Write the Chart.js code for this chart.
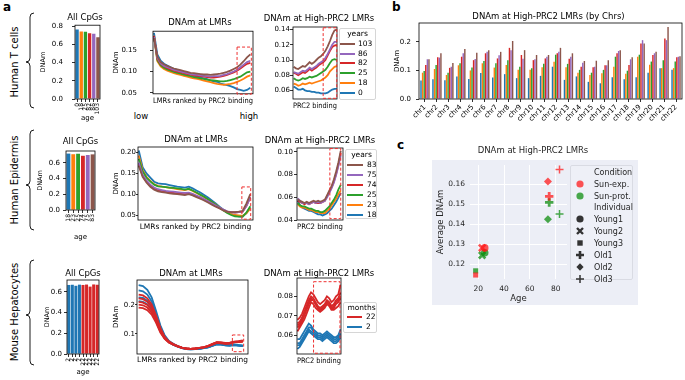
<!DOCTYPE html>
<html>
<head>
<meta charset="utf-8">
<title>DNAm at PRC2-bound LMRs</title>
<script src="https://cdn.jsdelivr.net/npm/chart.js@4.4.1/dist/chart.umd.min.js"></script>
<style>
  html, body { margin: 0; padding: 0; background: #fff; }
  #fig { position: relative; width: 685px; height: 380px; overflow: hidden; font-family: 'DejaVu Sans', sans-serif; color: #000; }
  #fig canvas { position: absolute; }
  .txt { position: absolute; white-space: nowrap; }
  .side { font-size: 10px; transform: translate(-50%, -50%) rotate(-90deg); }
  .mid { transform: translate(-50%, -50%); font-size: 8.5px; }
  .tag { font-size: 12px; font-weight: bold; }
  .leg { position: absolute; box-sizing: border-box; border: 1px solid #d6d6d6; border-radius: 2px; background: rgba(255,255,255,0.9); font-size: 7.5px; white-space: nowrap; z-index: 5; }
  .leg .lt { text-align: center; }
  .leg .li i { display: inline-block; height: 2px; vertical-align: middle; }
  .leg.sea { background: #eef0f7; border-color: #d9dbe3; font-size: 8px; color: #262626; }
  .leg.sea .li svg { display: inline-block; vertical-align: middle; margin: 0 8px 0 3px; }
  .leg.sea .li.head span { display: inline-block; width: 23px; }
  #cbg { position: absolute; left: 432px; top: 160px; width: 206px; height: 145px; background: #eceef6; }
</style>
</head>
<body>
<div id="fig">
  <div id="cbg"></div>
  <svg width="40" height="380" style="position:absolute;left:0;top:0" fill="none" stroke="#000" stroke-width="0.9">
    <path d="M34,13 Q30,13 30,17 L30,58 Q30,62 26,62 Q30,62 30,66 L30,104 Q30,108 34,108"/>
    <path d="M34,130 Q30,130 30,134 L30,181 Q30,185 26,185 Q30,185 30,189 L30,226 Q30,230 34,230"/>
    <path d="M34,260 Q30,260 30,264 L30,311 Q30,315 26,315 Q30,315 30,319 L30,361 Q30,365 34,365"/>
  </svg>
  <div class="txt side" style="left:14px;top:62px">Human T cells</div>
  <div class="txt side" style="left:14px;top:180px">Human Epidermis</div>
  <div class="txt side" style="left:14px;top:312px">Mouse Hepatocytes</div>
  <div class="txt tag" style="left:3px;top:0px">a</div>
  <div class="txt tag" style="left:392px;top:0px">b</div>
  <div class="txt tag" style="left:397px;top:138px">c</div>
  <div class="txt mid" style="left:141px;top:116px">low</div>
  <div class="txt mid" style="left:249px;top:116px">high</div>
</div>

<script>
// ---------------- data ----------------
// Human T cells (ages in years)
const tcAges = ['0', '18', '25', '82', '86', '103'];
const tcAllCpG = [0.762, 0.742, 0.737, 0.722, 0.716, 0.677];

const rank30 = [0, 1, 2, 3, 4, 5, 6, 7, 8, 9, 10, 11, 12, 13, 14, 15, 16, 17, 18, 19, 20, 21, 22, 23, 24, 25, 26, 27, 28, 29];
const rank25 = [0, 1, 2, 3, 4, 5, 6, 7, 8, 9, 10, 11, 12, 13, 14, 15, 16, 17, 18, 19, 20, 21, 22, 23, 24];
const rank20 = [0, 1, 2, 3, 4, 5, 6, 7, 8, 9, 10, 11, 12, 13, 14, 15, 16, 17, 18, 19];

const tcLmr0   = [0.190, 0.140, 0.125, 0.118, 0.114, 0.110, 0.106, 0.104, 0.101, 0.098, 0.096, 0.094, 0.090, 0.088, 0.086, 0.084, 0.082, 0.079, 0.077, 0.076, 0.072, 0.070, 0.068, 0.066, 0.063, 0.059, 0.057, 0.055, 0.057, 0.062];
const tcLmr18  = [0.183, 0.124, 0.112, 0.106, 0.102, 0.099, 0.096, 0.094, 0.092, 0.090, 0.088, 0.086, 0.084, 0.083, 0.081, 0.079, 0.077, 0.075, 0.073, 0.071, 0.070, 0.069, 0.070, 0.071, 0.073, 0.076, 0.079, 0.083, 0.088, 0.091];
const tcLmr25  = [0.182, 0.127, 0.115, 0.109, 0.105, 0.102, 0.099, 0.097, 0.095, 0.093, 0.091, 0.089, 0.087, 0.086, 0.084, 0.083, 0.081, 0.080, 0.079, 0.078, 0.077, 0.077, 0.078, 0.080, 0.082, 0.085, 0.088, 0.093, 0.098, 0.100];
const tcLmr82  = [0.183, 0.130, 0.118, 0.112, 0.108, 0.105, 0.102, 0.100, 0.098, 0.096, 0.094, 0.093, 0.091, 0.090, 0.089, 0.088, 0.087, 0.086, 0.086, 0.087, 0.088, 0.090, 0.092, 0.095, 0.098, 0.102, 0.107, 0.113, 0.118, 0.120];
const tcLmr86  = [0.180, 0.132, 0.119, 0.113, 0.110, 0.107, 0.104, 0.102, 0.100, 0.098, 0.096, 0.094, 0.093, 0.092, 0.091, 0.090, 0.089, 0.088, 0.089, 0.089, 0.090, 0.092, 0.094, 0.097, 0.100, 0.104, 0.110, 0.116, 0.122, 0.125];
const tcLmr103 = [0.178, 0.135, 0.122, 0.117, 0.113, 0.110, 0.107, 0.105, 0.103, 0.101, 0.099, 0.097, 0.096, 0.095, 0.094, 0.093, 0.093, 0.092, 0.093, 0.094, 0.095, 0.097, 0.099, 0.102, 0.106, 0.110, 0.116, 0.124, 0.133, 0.140];

const tcHigh0   = [0.065, 0.063, 0.061, 0.061, 0.062, 0.060, 0.059, 0.059, 0.058, 0.058, 0.057, 0.057, 0.056, 0.056, 0.056, 0.057, 0.059, 0.061, 0.062, 0.062];
const tcHigh18  = [0.069, 0.068, 0.066, 0.067, 0.069, 0.068, 0.069, 0.070, 0.069, 0.070, 0.071, 0.072, 0.073, 0.075, 0.077, 0.080, 0.085, 0.088, 0.091, 0.092];
const tcHigh25  = [0.076, 0.074, 0.073, 0.074, 0.076, 0.075, 0.076, 0.078, 0.077, 0.078, 0.079, 0.081, 0.083, 0.085, 0.087, 0.091, 0.096, 0.100, 0.101, 0.100];
const tcHigh82  = [0.083, 0.082, 0.080, 0.082, 0.084, 0.083, 0.085, 0.088, 0.086, 0.088, 0.090, 0.093, 0.095, 0.097, 0.100, 0.106, 0.112, 0.117, 0.119, 0.120];
const tcHigh86  = [0.084, 0.083, 0.082, 0.084, 0.086, 0.085, 0.087, 0.090, 0.088, 0.090, 0.092, 0.095, 0.097, 0.099, 0.103, 0.108, 0.114, 0.120, 0.124, 0.124];
const tcHigh103 = [0.091, 0.089, 0.088, 0.090, 0.092, 0.091, 0.094, 0.097, 0.095, 0.097, 0.100, 0.103, 0.105, 0.108, 0.112, 0.118, 0.125, 0.133, 0.139, 0.140];

// Human epidermis (ages in years)
const epAges = ['18', '23', '25', '74', '75', '83'];
const epAllCpG = [0.720, 0.712, 0.718, 0.692, 0.702, 0.710];

const epLmr18 = [0.205, 0.165, 0.150, 0.140, 0.130, 0.126, 0.125, 0.124, 0.122, 0.120, 0.118, 0.117, 0.116, 0.118, 0.114, 0.109, 0.104, 0.098, 0.092, 0.085, 0.078, 0.070, 0.063, 0.057, 0.052, 0.049, 0.047, 0.046, 0.055, 0.068];
const epLmr23 = [0.193, 0.158, 0.142, 0.132, 0.124, 0.120, 0.118, 0.117, 0.115, 0.114, 0.112, 0.111, 0.110, 0.112, 0.108, 0.103, 0.098, 0.093, 0.087, 0.081, 0.075, 0.068, 0.062, 0.056, 0.052, 0.050, 0.049, 0.048, 0.054, 0.066];
const epLmr25 = [0.185, 0.155, 0.140, 0.131, 0.123, 0.119, 0.118, 0.117, 0.116, 0.115, 0.114, 0.113, 0.111, 0.113, 0.109, 0.104, 0.099, 0.094, 0.088, 0.082, 0.075, 0.068, 0.061, 0.055, 0.050, 0.047, 0.046, 0.046, 0.056, 0.071];
const epLmr74 = [0.172, 0.145, 0.130, 0.120, 0.113, 0.110, 0.108, 0.106, 0.104, 0.103, 0.102, 0.101, 0.100, 0.102, 0.099, 0.095, 0.091, 0.087, 0.082, 0.077, 0.072, 0.067, 0.062, 0.058, 0.057, 0.056, 0.057, 0.058, 0.072, 0.093];
const epLmr75 = [0.176, 0.147, 0.133, 0.123, 0.116, 0.112, 0.110, 0.108, 0.107, 0.106, 0.105, 0.104, 0.103, 0.104, 0.101, 0.097, 0.093, 0.088, 0.083, 0.078, 0.073, 0.068, 0.063, 0.059, 0.057, 0.056, 0.057, 0.058, 0.072, 0.092];
const epLmr83 = [0.168, 0.142, 0.128, 0.118, 0.111, 0.107, 0.105, 0.104, 0.102, 0.101, 0.100, 0.099, 0.098, 0.100, 0.097, 0.093, 0.089, 0.085, 0.080, 0.075, 0.070, 0.066, 0.061, 0.058, 0.057, 0.057, 0.058, 0.060, 0.078, 0.100];

const epHigh18 = [0.057, 0.053, 0.051, 0.050, 0.049, 0.048, 0.048, 0.047, 0.046, 0.045, 0.045, 0.044, 0.045, 0.046, 0.048, 0.050, 0.053, 0.056, 0.060, 0.064];
const epHigh23 = [0.054, 0.052, 0.051, 0.051, 0.050, 0.049, 0.049, 0.048, 0.047, 0.047, 0.046, 0.046, 0.046, 0.048, 0.050, 0.053, 0.056, 0.059, 0.063, 0.066];
const epHigh25 = [0.055, 0.053, 0.052, 0.052, 0.051, 0.050, 0.050, 0.049, 0.048, 0.048, 0.047, 0.047, 0.048, 0.050, 0.052, 0.055, 0.058, 0.062, 0.067, 0.071];
const epHigh74 = [0.057, 0.056, 0.055, 0.054, 0.055, 0.054, 0.055, 0.056, 0.055, 0.055, 0.055, 0.056, 0.057, 0.061, 0.065, 0.069, 0.074, 0.081, 0.089, 0.099];
const epHigh75 = [0.059, 0.057, 0.055, 0.055, 0.055, 0.054, 0.055, 0.056, 0.055, 0.056, 0.055, 0.056, 0.057, 0.060, 0.064, 0.068, 0.073, 0.080, 0.088, 0.097];
const epHigh83 = [0.058, 0.057, 0.056, 0.055, 0.056, 0.055, 0.056, 0.057, 0.056, 0.057, 0.056, 0.057, 0.058, 0.062, 0.066, 0.070, 0.076, 0.083, 0.091, 0.101];

// Mouse hepatocytes (ages in months)
const moAges = ['2', '2', '2', '2', '22', '22', '22', '22', '22'];
const moAllCpG = [0.668, 0.670, 0.660, 0.671, 0.668, 0.672, 0.652, 0.673, 0.670];

const moLmr22a = [0.236, 0.233, 0.223, 0.202, 0.164, 0.121, 0.090, 0.074, 0.065, 0.058, 0.053, 0.050, 0.049, 0.050, 0.052, 0.055, 0.058, 0.065, 0.071, 0.070, 0.068, 0.068, 0.072, 0.073, 0.075];
const moLmr22b = [0.223, 0.220, 0.211, 0.192, 0.157, 0.116, 0.088, 0.073, 0.064, 0.058, 0.053, 0.050, 0.049, 0.050, 0.052, 0.055, 0.059, 0.066, 0.072, 0.071, 0.069, 0.070, 0.074, 0.075, 0.078];
const moLmr22c = [0.211, 0.208, 0.200, 0.182, 0.150, 0.112, 0.086, 0.072, 0.064, 0.057, 0.052, 0.050, 0.049, 0.050, 0.052, 0.054, 0.058, 0.065, 0.071, 0.070, 0.068, 0.069, 0.073, 0.074, 0.076];
const moLmr22d = [0.201, 0.199, 0.191, 0.174, 0.144, 0.108, 0.084, 0.071, 0.063, 0.057, 0.052, 0.050, 0.049, 0.050, 0.051, 0.054, 0.058, 0.064, 0.070, 0.069, 0.067, 0.068, 0.072, 0.073, 0.074];
const moLmr22e = [0.191, 0.189, 0.182, 0.167, 0.139, 0.105, 0.083, 0.070, 0.063, 0.057, 0.052, 0.049, 0.048, 0.049, 0.051, 0.053, 0.057, 0.063, 0.069, 0.068, 0.066, 0.067, 0.071, 0.072, 0.073];
const moLmr2a  = [0.268, 0.265, 0.252, 0.226, 0.180, 0.130, 0.095, 0.076, 0.066, 0.058, 0.053, 0.050, 0.048, 0.049, 0.050, 0.052, 0.055, 0.060, 0.065, 0.064, 0.061, 0.060, 0.062, 0.060, 0.058];
const moLmr2b  = [0.250, 0.247, 0.236, 0.212, 0.170, 0.124, 0.092, 0.074, 0.064, 0.057, 0.052, 0.049, 0.048, 0.048, 0.050, 0.052, 0.055, 0.061, 0.066, 0.065, 0.062, 0.061, 0.063, 0.061, 0.059];
const moLmr2c  = [0.226, 0.224, 0.215, 0.195, 0.158, 0.117, 0.088, 0.072, 0.063, 0.056, 0.051, 0.048, 0.047, 0.048, 0.049, 0.051, 0.054, 0.059, 0.064, 0.063, 0.061, 0.060, 0.062, 0.060, 0.058];
const moLmr2d  = [0.213, 0.211, 0.203, 0.185, 0.151, 0.113, 0.086, 0.071, 0.062, 0.056, 0.051, 0.048, 0.047, 0.048, 0.049, 0.051, 0.054, 0.060, 0.065, 0.064, 0.062, 0.061, 0.064, 0.062, 0.061];

const moHigh22a = [0.068, 0.069, 0.071, 0.074, 0.077, 0.080, 0.082, 0.081, 0.079, 0.077, 0.076, 0.077, 0.078, 0.080, 0.079, 0.077, 0.078, 0.080, 0.081, 0.086];
const moHigh22b = [0.066, 0.067, 0.069, 0.072, 0.075, 0.078, 0.080, 0.079, 0.077, 0.075, 0.074, 0.075, 0.076, 0.078, 0.077, 0.075, 0.076, 0.078, 0.079, 0.082];
const moHigh22c = [0.064, 0.065, 0.067, 0.070, 0.073, 0.076, 0.078, 0.078, 0.076, 0.074, 0.073, 0.074, 0.075, 0.077, 0.076, 0.074, 0.074, 0.076, 0.077, 0.079];
const moHigh22d = [0.062, 0.064, 0.066, 0.068, 0.071, 0.074, 0.077, 0.076, 0.074, 0.073, 0.072, 0.073, 0.074, 0.076, 0.075, 0.073, 0.073, 0.074, 0.075, 0.077];
const moHigh22e = [0.065, 0.066, 0.068, 0.071, 0.074, 0.077, 0.079, 0.078, 0.076, 0.074, 0.073, 0.074, 0.075, 0.077, 0.076, 0.074, 0.075, 0.077, 0.078, 0.080];
const moHigh2a  = [0.058, 0.058, 0.060, 0.062, 0.064, 0.066, 0.065, 0.063, 0.062, 0.061, 0.061, 0.060, 0.061, 0.062, 0.061, 0.060, 0.059, 0.059, 0.060, 0.063];
const moHigh2b  = [0.056, 0.056, 0.058, 0.060, 0.062, 0.064, 0.064, 0.062, 0.061, 0.060, 0.060, 0.059, 0.060, 0.061, 0.060, 0.059, 0.058, 0.058, 0.059, 0.061];
const moHigh2c  = [0.055, 0.055, 0.057, 0.059, 0.061, 0.063, 0.062, 0.061, 0.060, 0.059, 0.059, 0.058, 0.059, 0.060, 0.059, 0.058, 0.057, 0.057, 0.058, 0.060];
const moHigh2d  = [0.053, 0.054, 0.056, 0.058, 0.060, 0.062, 0.061, 0.060, 0.059, 0.058, 0.058, 0.057, 0.058, 0.059, 0.058, 0.057, 0.056, 0.056, 0.057, 0.059];

// Panel b: T cells, high-PRC2 LMRs per chromosome
const chrNames = ['chr1', 'chr2', 'chr3', 'chr4', 'chr5', 'chr6', 'chr7', 'chr8', 'chr9', 'chr10', 'chr11', 'chr12', 'chr13', 'chr14', 'chr15', 'chr16', 'chr17', 'chr18', 'chr19', 'chr20', 'chr21', 'chr22'];
const chr0   = [0.065, 0.069, 0.066, 0.079, 0.070, 0.091, 0.075, 0.087, 0.073, 0.073, 0.081, 0.113, 0.067, 0.079, 0.060, 0.055, 0.076, 0.069, 0.076, 0.092, 0.108, 0.102];
const chr18  = [0.092, 0.105, 0.084, 0.118, 0.100, 0.125, 0.110, 0.119, 0.102, 0.102, 0.111, 0.130, 0.111, 0.092, 0.084, 0.090, 0.113, 0.088, 0.148, 0.120, 0.108, 0.108];
const chr25  = [0.098, 0.119, 0.092, 0.125, 0.110, 0.133, 0.125, 0.136, 0.113, 0.108, 0.123, 0.155, 0.123, 0.102, 0.092, 0.102, 0.148, 0.099, 0.155, 0.131, 0.136, 0.131];
const chr82  = [0.119, 0.146, 0.109, 0.148, 0.136, 0.160, 0.142, 0.179, 0.154, 0.136, 0.142, 0.160, 0.141, 0.113, 0.111, 0.118, 0.160, 0.119, 0.194, 0.154, 0.212, 0.146];
const chr86  = [0.139, 0.145, 0.113, 0.160, 0.140, 0.165, 0.153, 0.171, 0.141, 0.139, 0.148, 0.165, 0.148, 0.127, 0.113, 0.118, 0.168, 0.139, 0.206, 0.160, 0.206, 0.148];
const chr103 = [0.139, 0.160, 0.126, 0.175, 0.162, 0.171, 0.165, 0.203, 0.171, 0.154, 0.154, 0.179, 0.160, 0.133, 0.134, 0.136, 0.171, 0.146, 0.194, 0.165, 0.252, 0.150];

// Panel c: epidermis, average DNAm at high-PRC2 LMRs
const individuals = ['Young1', 'Young2', 'Young3', 'Old1', 'Old2', 'Old3'];
const indivAge = [25, 23, 18, 75, 74, 83];
const sunExpDNAm  = [0.1282, 0.1282, 0.1146, 0.1541, 0.1615, 0.1675];
const sunProtDNAm = [0.1258, 0.1245, 0.1167, 0.1510, 0.1426, 0.1452];

// ---------------- drawing ----------------
const fig = document.getElementById('fig');
const C = { blue: '#1f77b4', orange: '#ff7f0e', green: '#2ca02c', red: '#d62728', purple: '#9467bd', brown: '#8c564b' };
const ageColors = [C.blue, C.orange, C.green, C.red, C.purple, C.brown];

Chart.defaults.font.family = "'DejaVu Sans', sans-serif";
Chart.defaults.color = '#000';

// canvas placed so that the plot area lands on L,T,R,B; title centred at tx,ty
function place(L, T, R, B, cl, tx, ty, cb) {
  const left = Math.round(cl), top = Math.round(ty - 5.1);
  const right = Math.round(2 * tx - cl), bottom = Math.round(cb);
  const cv = document.createElement('canvas');
  cv.width = right - left; cv.height = bottom - top;
  cv.style.left = left + 'px'; cv.style.top = top + 'px';
  fig.appendChild(cv);
  return { cv, ml: L - left, mr: right - R, mb: bottom - B, th: T - top };
}

// empty axis on the right that only reserves space, so the plot ends at R
function rightPad(m) {
  return { position: 'right', display: true, grid: { display: false }, border: { display: false },
           ticks: { display: false }, afterFit: s => { s.width = m.mr; } };
}

function frame() {
  return { id: 'frame', afterDatasetsDraw(chart) {
    const { ctx, chartArea: a } = chart;
    ctx.save(); ctx.strokeStyle = '#000'; ctx.lineWidth = 0.8;
    ctx.strokeRect(a.left, a.top, a.width, a.height); ctx.restore();
  } };
}

function dashBox(x0, x1, y0, y1) {
  return { id: 'dashBox', afterDatasetsDraw(chart) {
    const { ctx, scales: { x, y } } = chart;
    const px0 = x.getPixelForValue(x0), px1 = x.getPixelForValue(x1);
    const py0 = y.getPixelForValue(y0), py1 = y.getPixelForValue(y1);
    ctx.save(); ctx.strokeStyle = '#ee3030'; ctx.lineWidth = 1; ctx.setLineDash([3, 2]);
    ctx.strokeRect(px0, py1, px1 - px0, py0 - py1); ctx.restore();
  } };
}

function baseOptions(m, title) {
  return {
    responsive: false, animation: false, devicePixelRatio: 1, events: [],
    layout: { padding: 0 },
    plugins: {
      legend: { display: false }, tooltip: { enabled: false },
      title: { display: true, text: title, fullSize: true, color: '#000', font: { size: 8.5, weight: 'normal' }, padding: { top: 0, bottom: m.th - 10.2 } }
    }
  };
}

function yAxis(m, o) {
  return {
    min: o.ymin, max: o.ymax,
    border: { display: false },
    grid: { drawOnChartArea: false, drawTicks: true, tickLength: o.tick ?? 3, color: '#000', lineWidth: 0.8 },
    ticks: { stepSize: o.step, includeBounds: false, padding: o.pad, font: { size: 7 }, color: '#000', callback: v => v.toFixed(o.dec) },
    title: { display: !!o.ylab, text: o.ylab, color: '#000', font: { size: o.ylabSize || 7 }, padding: 0 },
    afterFit: s => { s.width = m.ml; }
  };
}

function lineChart(m, o) {
  const opts = baseOptions(m, o.title);
  opts.scales = {
    x: { type: 'linear', min: o.xmin, max: o.xmax, grid: { display: false }, border: { display: false },
         ticks: { display: false },
         title: { display: true, text: o.xlab, color: '#000', font: { size: 7.5 }, padding: 0 },
         afterFit: s => { s.height = m.mb; } },
    y: yAxis(m, o),
    pad: rightPad(m)
  };
  return new Chart(m.cv, {
    type: 'line',
    data: { labels: o.ranks, datasets: o.series.map(s => ({ label: s.label, data: s.data, borderColor: s.color, backgroundColor: s.color, borderWidth: 1.8, pointRadius: 0, tension: 0, fill: false })) },
    options: opts,
    plugins: [frame(), dashBox(...o.box)]
  });
}

function barChart(m, o) {
  const opts = baseOptions(m, o.title);
  opts.scales = {
    x: { offset: true, border: { display: false },
         grid: { offset: false, drawOnChartArea: false, drawTicks: true, tickLength: 3, color: '#000', lineWidth: 0.8 },
         ticks: { autoSkip: false, minRotation: o.rot, maxRotation: o.rot, padding: 1, font: { size: o.xfs || 6 }, color: '#000' },
         title: { display: !!o.xlab, text: o.xlab, color: '#000', font: { size: 7 }, padding: 0 },
         afterFit: s => { s.height = m.mb; } },
    y: yAxis(m, o),
    pad: rightPad(m)
  };
  return new Chart(m.cv, {
    type: 'bar',
    data: { labels: o.labels, datasets: o.series },
    options: opts,
    plugins: [frame()]
  });
}

function lineLegend(chart, b, title) {
  const seen = new Set();
  const items = chart.data.datasets.filter(d => !seen.has(d.label) && seen.add(d.label));
  const el = document.createElement('div');
  el.className = 'leg';
  Object.assign(el.style, { left: b.x + 'px', top: b.y + 'px', width: b.w + 'px', height: b.h + 'px', lineHeight: b.row + 'px', paddingTop: b.pt + 'px', paddingLeft: b.pl + 'px' });
  el.innerHTML = `<div class="lt">${title}</div>` + items.map(d =>
    `<div class="li"><i style="width:${b.lw}px;margin-right:${b.gap}px;background:${d.borderColor}"></i>${d.label}</div>`).join('');
  fig.appendChild(el);
}

const bySix = (arrs, labels) => arrs.map((a, i) => ({ label: labels[i], data: a, color: ageColors[i] })).reverse();

// ---- row 1: Human T cells ----
barChart(place(75, 25, 100, 99, 39.4, 85, 17.3, 121.7), {
  title: 'All CpGs', labels: tcAges, rot: 90, xlab: 'age', ylab: 'DNAm', ylabSize: 6.5,
  ymin: 0, ymax: 0.81, step: 0.2, dec: 1, pad: 9,
  series: [{ data: tcAllCpG, backgroundColor: ageColors, barPercentage: 0.8, categoryPercentage: 1 }]
});
lineChart(place(153, 28, 253, 99, 111.8, 200, 19, 110.5), {
  title: 'DNAm at LMRs', xlab: 'LMRs ranked by PRC2 binding', ylab: 'DNAm', ranks: rank30,
  xmin: -0.3, xmax: 29.8, ymin: 0.048, ymax: 0.194, step: 0.05, dec: 2, pad: 13,
  series: bySix([tcLmr0, tcLmr18, tcLmr25, tcLmr82, tcLmr86, tcLmr103], tcAges),
  box: [25, 29.3, 0.047, 0.157]
});
const h1 = lineChart(place(293, 27, 337, 99, 260, 319, 19.3, 110.5), {
  title: 'DNAm at High-PRC2 LMRs', xlab: 'PRC2 binding', ranks: rank20,
  xmin: -0.3, xmax: 19.1, ymin: 0.0486, ymax: 0.1435, step: 0.02, dec: 2, pad: 0,
  series: bySix([tcHigh0, tcHigh18, tcHigh25, tcHigh82, tcHigh86, tcHigh103], tcAges),
  box: [13.0, 19.0, 0.0495, 0.1425]
});
lineLegend(h1, { x: 339, y: 28, w: 37, h: 72, row: 9.8, pt: 0, pl: 0, lw: 15, gap: 3 }, 'years');

// ---- row 2: Human epidermis ----
barChart(place(66, 151, 95, 210, 36.1, 80.5, 142, 241.2), {
  title: 'All CpGs', labels: epAges, rot: 90, xlab: 'age', ylab: 'DNAm', ylabSize: 6.5,
  ymin: 0, ymax: 0.753, step: 0.2, dec: 1, pad: 3,
  series: [{ data: epAllCpG, backgroundColor: ageColors, barPercentage: 0.8, categoryPercentage: 1 }]
});
lineChart(place(138, 147, 253, 220, 111.8, 196, 140, 231.5), {
  title: 'DNAm at LMRs', xlab: 'LMRs ranked by PRC2 binding', ylab: 'DNAm', ranks: rank30,
  xmin: -0.2, xmax: 29.7, ymin: 0.038, ymax: 0.2135, step: 0.05, dec: 2, pad: 0, tick: 2,
  series: bySix([epLmr18, epLmr23, epLmr25, epLmr74, epLmr75, epLmr83], epAges),
  box: [26.8, 29.1, 0.040, 0.1175]
});
const h2 = lineChart(place(297, 148, 343, 220, 261, 320, 140.7, 231.8), {
  title: 'DNAm at High-PRC2 LMRs', xlab: 'PRC2 binding', ranks: rank20,
  xmin: -0.3, xmax: 20, ymin: 0.04, ymax: 0.1035, step: 0.02, dec: 2, pad: 1,
  series: bySix([epHigh18, epHigh23, epHigh25, epHigh74, epHigh75, epHigh83], epAges),
  box: [14.2, 19.0, 0.0412, 0.1030]
});
lineLegend(h2, { x: 345, y: 149, w: 32, h: 70, row: 10, pt: 0, pl: 1, lw: 16, gap: 4 }, 'years');

// ---- row 3: Mouse hepatocytes ----
const moBarColors = moAges.map(a => a === '2' ? C.blue : C.red);
barChart(place(67, 280, 99, 354, 42.8, 83, 274, 375.9), {
  title: 'All CpGs', labels: moAges, rot: 90, xlab: 'age', ylab: 'DNAm', ylabSize: 6.5,
  ymin: 0, ymax: 0.716, step: 0.2, dec: 1, pad: 2,
  series: [{ data: moAllCpG, backgroundColor: moBarColors, barPercentage: 0.85, categoryPercentage: 1 }]
});
const moSeries = (a22, a2) => a22.map(d => ({ label: '22', data: d, color: C.red })).concat(a2.map(d => ({ label: '2', data: d, color: C.blue })));
lineChart(place(137, 280, 248, 354, 111.8, 191, 274, 364.5), {
  title: 'DNAm at LMRs', xlab: 'LMRs ranked by PRC2 binding', ylab: 'DNAm', ranks: rank25,
  xmin: -0.38, xmax: 25.2, ymin: 0.031, ymax: 0.286, step: 0.1, dec: 1, pad: 0, tick: 2,
  series: moSeries([moLmr22a, moLmr22b, moLmr22c, moLmr22d, moLmr22e], [moLmr2a, moLmr2b, moLmr2c, moLmr2d]),
  box: [21.6, 24.2, 0.039, 0.0966]
});
const h3 = lineChart(place(297, 278, 341, 354, 260, 319, 274.3, 365.5), {
  title: 'DNAm at High-PRC2 LMRs', xlab: 'PRC2 binding', ranks: rank20,
  xmin: -0.2, xmax: 19.2, ymin: 0.0504, ymax: 0.0894, step: 0.01, dec: 2, pad: 1,
  series: moSeries([moHigh22a, moHigh22b, moHigh22c, moHigh22d, moHigh22e], [moHigh2a, moHigh2b, moHigh2c, moHigh2d]),
  box: [7.1, 18.75, 0.0508, 0.0875]
});
lineLegend(h3, { x: 343, y: 302, w: 34, h: 31, row: 9.3, pt: 0, pl: 3, lw: 15, gap: 4 }, 'months');

// ---- panel b ----
barChart(place(419, 23, 682, 99, 392.5, 548, 17.3, 124), {
  title: 'DNAm at High-PRC2 LMRs (by Chrs)', labels: chrNames, rot: 45, xfs: 7, ylab: 'DNAm',
  ymin: 0, ymax: 0.266, step: 0.1, dec: 1, pad: 5,
  series: [chr0, chr18, chr25, chr82, chr86, chr103].map((d, i) => ({
    label: tcAges[i], data: d, backgroundColor: ageColors[i], barPercentage: 0.9, categoryPercentage: 0.8 }))
});

// ---- panel c ----
const markStyle  = ['circle', 'crossRot', 'rect', 'cross', 'rectRot', 'cross'];
const markRadius = [3.8, 4.6, 3.6, 4.2, 4.0, 4.0];
const markWidth  = [0, 2.6, 0, 2.8, 0, 1.5];
const sunRed = 'rgba(255,20,20,0.72)', sunGreen = 'rgba(0,135,0,0.7)';
const mc = place(470, 165, 567, 279, 435.9, 533, 151, 304.1);
const cOpts = baseOptions(mc, 'DNAm at High-PRC2 LMRs');
cOpts.plugins.title.color = '#262626';
cOpts.scales = {
  x: { type: 'linear', min: 13.6, max: 88.8, border: { display: false },
       grid: { color: '#ffffff', lineWidth: 1, drawTicks: false },
       ticks: { stepSize: 20, includeBounds: false, padding: 5.5, font: { size: 7.5 }, color: '#262626' },
       title: { display: true, text: 'Age', color: '#262626', font: { size: 8.5 }, padding: 0 },
       afterFit: s => { s.height = mc.mb; } },
  y: { min: 0.1126, max: 0.1698, border: { display: false },
       grid: { color: '#ffffff', lineWidth: 1, drawTicks: false },
       ticks: { stepSize: 0.01, includeBounds: false, padding: 5, font: { size: 7.5 }, color: '#262626', callback: v => v.toFixed(2) },
       title: { display: true, text: 'Average DNAm', color: '#262626', font: { size: 8.5 }, padding: 0 },
       afterFit: s => { s.width = mc.ml; } },
  pad: rightPad(mc)
};
const pts = vals => indivAge.map((a, i) => ({ x: a, y: vals[i] }));
new Chart(mc.cv, {
  type: 'scatter',
  data: { datasets: [
    { label: 'Sun-exp.', data: pts(sunExpDNAm), backgroundColor: sunRed, borderColor: sunRed, pointStyle: markStyle, pointRadius: markRadius, borderWidth: markWidth },
    { label: 'Sun-prot.', data: pts(sunProtDNAm), backgroundColor: sunGreen, borderColor: sunGreen, pointStyle: markStyle, pointRadius: markRadius, borderWidth: markWidth }
  ] },
  options: cOpts
});

// seaborn-like legend for panel c
function markerSvg(style, color) {
  const f = `fill="${color}"`, s = `stroke="${color}"`;
  const shapes = {
    circle: `<circle cx="6" cy="6" r="3.6" ${f}/>`,
    crossRot: `<path d="M3,3L9,9M9,3L3,9" ${s} stroke-width="2.4"/>`,
    rect: `<rect x="3.3" y="3.3" width="5.4" height="5.4" ${f}/>`,
    cross: `<path d="M6,2V10M2,6H10" ${s} stroke-width="2.6"/>`,
    rectRot: `<path d="M6,2.2L9.6,6L6,9.8L2.4,6Z" ${f}/>`,
    plus: `<path d="M6,2V10M2,6H10" ${s} stroke-width="1.5"/>`
  };
  return `<svg width="12" height="12" viewBox="0 0 12 12">${shapes[style]}</svg>`;
}
(function () {
  const el = document.createElement('div');
  el.className = 'leg sea';
  Object.assign(el.style, { left: '570px', top: '165px', width: '63px', height: '115px', lineHeight: '11.1px', paddingTop: '0.6px' });
  const row = (mk, txt) => `<div class="li">${mk}${txt}</div>`;
  const head = txt => `<div class="li head"><span></span>${txt}</div>`;
  const legStyles = ['circle', 'crossRot', 'rect', 'cross', 'rectRot', 'plus'];
  el.innerHTML = head('Condition') + row(markerSvg('circle', sunRed), 'Sun-exp.') + row(markerSvg('circle', sunGreen), 'Sun-prot.') +
    head('Individual') + individuals.map((n, i) => row(markerSvg(legStyles[i], '#333'), n)).join('');
  fig.appendChild(el);
})();
</script>
</body>
</html>
